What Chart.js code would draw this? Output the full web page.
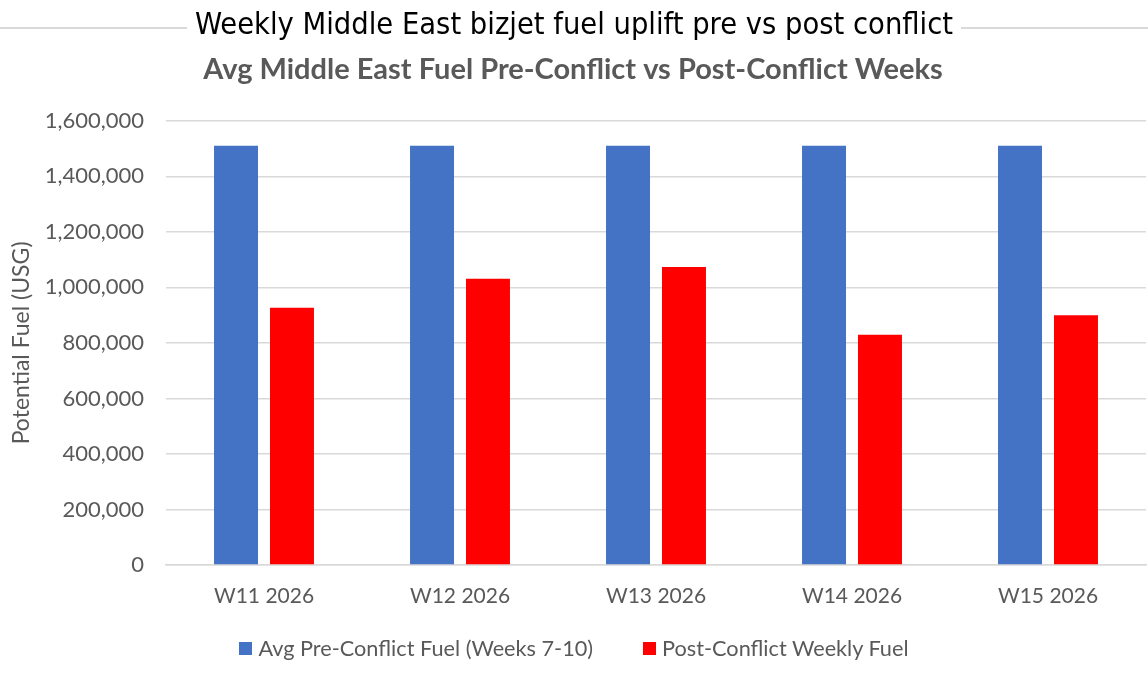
<!DOCTYPE html>
<html>
<head>
<meta charset="utf-8">
<script src="https://cdn.jsdelivr.net/npm/chart.js@4.4.1/dist/chart.umd.min.js"></script>
<style>
  html, body { margin: 0; padding: 0; background: #fff; }
  #wrap { position: relative; width: 1148px; height: 673px; }
  #topTitle { position: absolute; left: 0; top: 6px; width: 1148px; display: flex; align-items: center; }
  #topTitle .line { flex: 1; height: 2px; background: #d9d9d9; margin-top: 8px; }
  #topTitle .txt { padding: 0 8px; font-family: "Liberation Sans Narrow", "DejaVu Sans Condensed", sans-serif; font-size: 30.5px; color: #000; white-space: nowrap; }
  canvas { position: absolute; left: 0; top: 0; }
  #legend { position: absolute; left: 0; width: 1148px; top: 634px; height: 28px; display: flex; justify-content: center; align-items: center; font-family: Lato, "Open Sans", sans-serif; font-size: 21.7px; color: #595959; }
  #legend .item { display: flex; align-items: center; }
  #legend .item + .item { margin-left: 50px; }
  #legend .sw { width: 13px; height: 13px; margin-right: 6px; }
</style>
</head>
<body>
<div id="wrap">
  <canvas id="c" width="1148" height="673"></canvas>
  <div id="topTitle"><div class="line"></div><div class="txt">Weekly Middle East bizjet fuel uplift pre vs post conflict</div><div class="line"></div></div>
  <div id="legend"></div>
</div>
<script>
const categories = ["W11 2026", "W12 2026", "W13 2026", "W14 2026", "W15 2026"];
const preConflict = [1510000, 1510000, 1510000, 1510000, 1510000];
const postConflict = [927000, 1031000, 1073000, 829000, 900000];
const seriesNames = ["Avg Pre-Conflict Fuel (Weeks 7-10)", "Post-Conflict Weekly Fuel"];
const seriesColors = ["#4472c4", "#ff0000"];
const chartTitle = "Avg Middle East Fuel Pre-Conflict vs Post-Conflict Weeks";
const yAxisTitle = "Potential Fuel (USG)";

const FONT = "Lato, 'Open Sans', sans-serif";
const GREY = "#595959";

const chart = new Chart(document.getElementById("c"), {
  type: "bar",
  data: {
    labels: categories,
    datasets: [
      { label: seriesNames[0], data: preConflict, backgroundColor: seriesColors[0], categoryPercentage: 0.571, barPercentage: 0.786 },
      { label: seriesNames[1], data: postConflict, backgroundColor: seriesColors[1], categoryPercentage: 0.571, barPercentage: 0.786 }
    ]
  },
  options: {
    responsive: false,
    animation: false,
    devicePixelRatio: 1,
    layout: { padding: { left: 0, right: 2, top: 0, bottom: 58 } },
    plugins: {
      title: {
        display: true,
        text: chartTitle,
        color: GREY,
        font: { family: FONT, size: 29, weight: "bold" },
        padding: { top: 52, bottom: 34 }
      },
      legend: { display: false },
      tooltip: { enabled: false }
    },
    scales: {
      x: {
        grid: { display: false, drawTicks: false },
        border: { display: true, color: "#d9d9d9", width: 1.5 },
        ticks: { color: GREY, font: { family: FONT, size: 21 }, padding: 19 },
        afterFit: s => { s.height = 50; }
      },
      y: {
        min: 0,
        max: 1600000,
        grid: { color: "#d9d9d9", lineWidth: 1.5, drawTicks: false },
        border: { display: false },
        ticks: {
          stepSize: 200000,
          color: GREY,
          font: { family: FONT, size: 22 },
          padding: 22,
          callback: v => v.toLocaleString("en-US")
        },
        title: {
          display: true,
          text: yAxisTitle,
          color: GREY,
          font: { family: FONT, size: 23 },
          padding: { top: 8, bottom: 4 }
        },
        afterFit: s => { s.width = 166; }
      }
    }
  }
});

// Legend built from the chart's datasets
const legendEl = document.getElementById("legend");
chart.data.datasets.forEach(ds => {
  const item = document.createElement("div");
  item.className = "item";
  const sw = document.createElement("div");
  sw.className = "sw";
  sw.style.background = ds.backgroundColor;
  const txt = document.createElement("span");
  txt.textContent = ds.label;
  item.appendChild(sw);
  item.appendChild(txt);
  legendEl.appendChild(item);
});
</script>
</body>
</html>
